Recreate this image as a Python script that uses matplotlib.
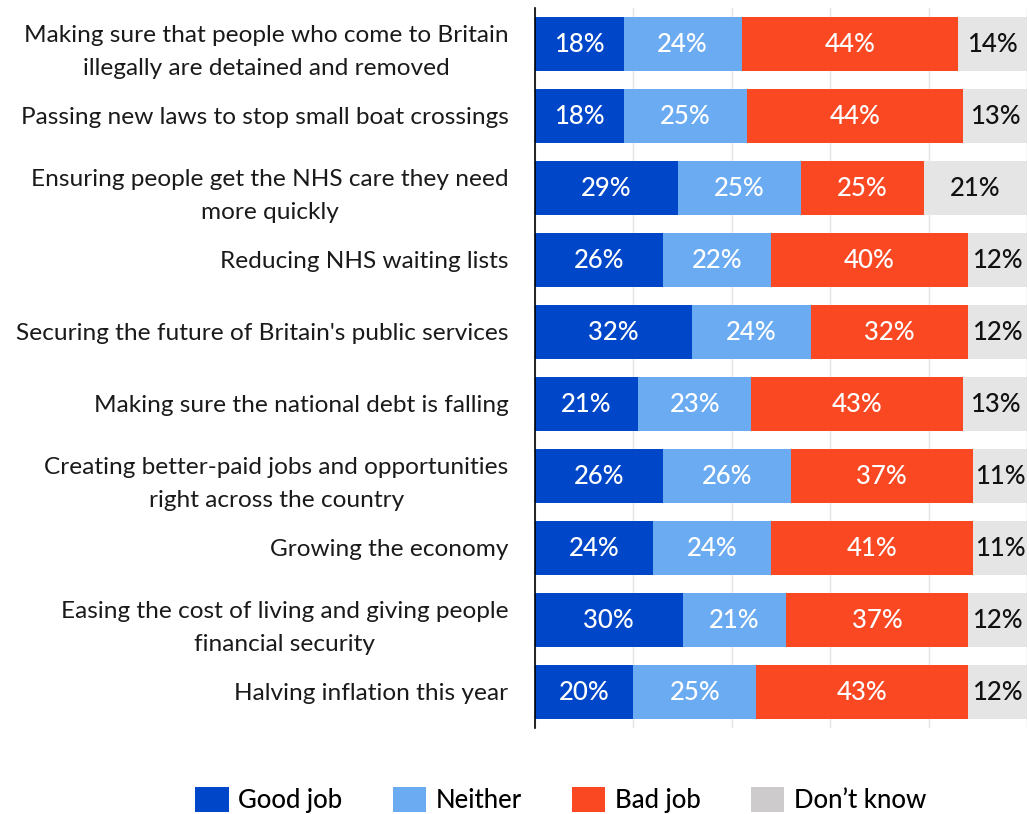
import matplotlib
matplotlib.use("Agg")
import matplotlib.pyplot as plt
from matplotlib.patches import Patch

categories = [
    "Making sure that people who come to Britain\nillegally are detained and removed",
    "Passing new laws to stop small boat crossings",
    "Ensuring people get the NHS care they need\nmore quickly",
    "Reducing NHS waiting lists",
    "Securing the future of Britain's public services",
    "Making sure the national debt is falling",
    "Creating better-paid jobs and opportunities\nright across the country",
    "Growing the economy",
    "Easing the cost of living and giving people\nfinancial security",
    "Halving inflation this year",
]
good_job = [18, 18, 29, 26, 32, 21, 26, 24, 30, 20]
neither = [24, 25, 25, 22, 24, 23, 26, 24, 21, 25]
bad_job = [44, 44, 25, 40, 32, 43, 37, 41, 37, 43]
dont_know = [14, 13, 21, 12, 12, 13, 11, 11, 12, 12]

series_names = ["Good job", "Neither", "Bad job", "Don\u2019t know"]
series_values = [good_job, neither, bad_job, dont_know]
bar_colors = ["#0046C8", "#6AABF2", "#FA4823", "#E5E5E5"]
legend_colors = ["#0046C8", "#6AABF2", "#FA4823", "#CDCBCC"]
text_colors = ["white", "white", "white", "#111111"]

plt.rcParams["font.family"] = ["Lato", "DejaVu Sans"]

fig = plt.figure(figsize=(10.29, 8.14), dpi=100)
ax = fig.add_axes([535 / 1029, 1 - 728 / 814, 492 / 1029, 720 / 814])

y = list(range(len(categories)))
left = [0] * len(categories)
for vals, color, tcolor in zip(series_values, bar_colors, text_colors):
    bars = ax.barh(y, vals, left=left, height=0.75, color=color, zorder=2)
    for i, (b, v) in enumerate(zip(bars, vals)):
        ax.text(left[i] + v / 2, i, f"{v}%", ha="center", va="center",
                color=tcolor, fontsize=18.5, fontweight="medium", zorder=3)
    left = [l + v for l, v in zip(left, vals)]

ax.set_xlim(0, 100)
ax.set_ylim(len(categories) - 0.5, -0.5)
ax.set_xticks([0, 20, 40, 60, 80, 100])
ax.set_xticklabels([])
ax.tick_params(axis="x", length=0)
ax.grid(axis="x", color="#E3E3E3", linewidth=1, zorder=0)
ax.set_yticks(y)
ax.set_yticklabels(categories, fontsize=17.6, color="#1a1a1a", fontweight="normal",
                   multialignment="center", linespacing=1.7)
ax.tick_params(axis="y", length=0, pad=19)
for s in ["top", "right", "bottom"]:
    ax.spines[s].set_visible(False)
ax.spines["left"].set_color("black")
ax.spines["left"].set_linewidth(1.2)
ax.spines["left"].set_zorder(4)

handles = [Patch(facecolor=c, edgecolor="none") for c in legend_colors]
fig.legend(handles, series_names, loc="center", bbox_to_anchor=(0.545, 1 - 800 / 814),
           ncol=4, frameon=False, handlelength=1.3, handleheight=1.15,
           columnspacing=1.95, handletextpad=0.38,
           prop={"size": 18.5, "weight": "medium"})

fig.savefig("out.png", dpi=100)
